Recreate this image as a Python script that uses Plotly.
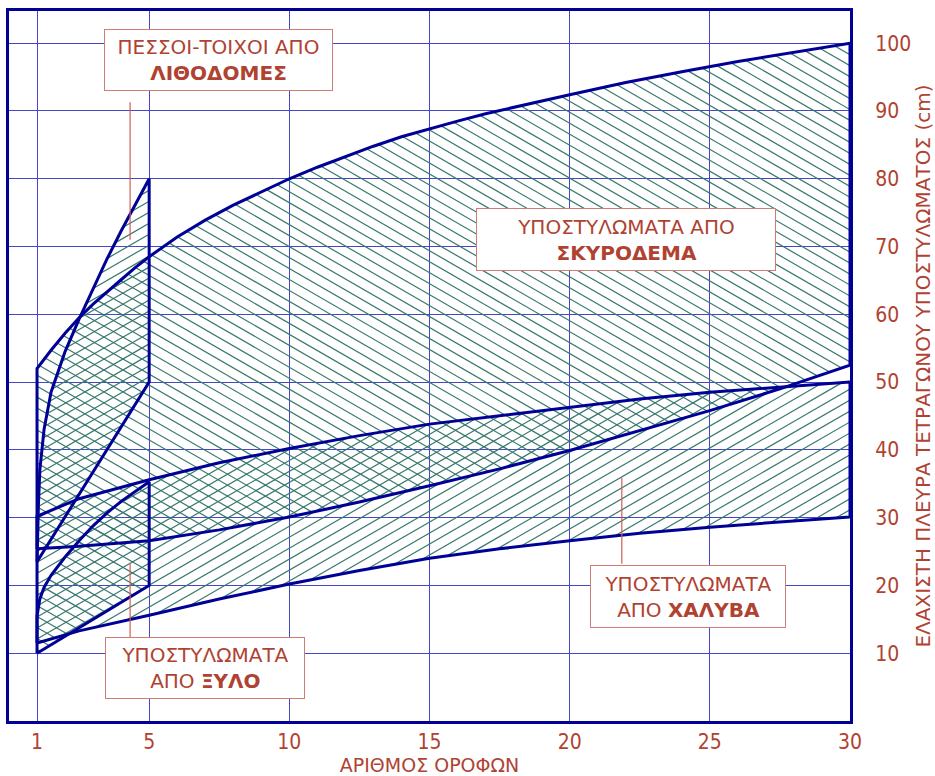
import numpy as np
import plotly.graph_objects as go

# ---- boundary curves: number of floors vs minimum square column side (cm) ----
# reinforced concrete columns
conc_up_floors = [1, 1.5, 2, 2.5, 3, 3.5, 4, 4.5, 5, 6, 7, 8, 9, 10, 11, 12, 13, 14, 15,
                  16, 17, 18, 19, 20, 22, 24, 26, 28, 30]
conc_upper = [52, 54.7, 57.2, 59.5, 61.5, 63.3, 65.1, 66.9, 68.5, 71.4, 73.9, 76.1, 78.1, 80,
              81.7, 83.3, 84.8, 86.2, 87.4, 88.5, 89.6, 90.6, 91.5, 92.4, 94.2, 95.8, 97.3, 98.7, 100]
conc_low_floors = [1, 2.5, 5, 7.5, 10, 12.5, 15, 17.5, 20, 22.5, 25, 27.5, 30]
conc_lower = [25.4, 25.8, 26.6, 28.2, 30.1, 32.3, 34.7, 37.2, 39.9, 42.8, 45.8, 49.0, 52.5]

# steel columns
steel_floors = [1, 2.5, 5, 7.5, 10, 12.5, 15, 17.5, 20, 22.5, 25, 27.5, 30]
steel_lower = [11.5, 13.3, 15.6, 18.0, 20.2, 22.2, 24.0, 25.4, 26.6, 27.7, 28.6, 29.4, 30.1]
steel_upper = [30.2, 32.8, 35.6, 38.1, 40.2, 42.1, 43.8, 45.1, 46.3, 47.5, 48.5, 49.3, 50.0]

# masonry piers / walls
mas_up_floors = [1, 1.05, 1.1, 1.25, 1.5, 2, 2.5, 3, 3.5, 4, 4.5, 5]
mas_upper = [23.5, 32, 37, 43, 48.5, 54.5, 59.3, 63.8, 68.2, 72.3, 76.2, 80]
mas_low_floors = [1, 5]
mas_lower = [23.5, 50]

# timber columns
wood_up_floors = [1, 1.1, 1.25, 1.5, 2, 2.5, 3, 3.5, 4, 4.5, 5]
wood_upper = [15.5, 18, 19.7, 21.5, 24.2, 26.6, 28.8, 30.7, 32.4, 33.9, 35.3]
wood_low_floors = [1, 5]
wood_lower = [10, 20]

x_ticks = [1, 5, 10, 15, 20, 25, 30]
y_ticks = [10, 20, 30, 40, 50, 60, 70, 80, 90, 100]

# ---- figure geometry ----
W, H = 935, 776
ML, MR, MT, MB = 9, 85, 11, 55
X_RANGE = [0, 30]
Y_RANGE = [0, 104.75]
SX = (W - ML - MR) / (X_RANGE[1] - X_RANGE[0])
SY = (H - MT - MB) / (Y_RANGE[1] - Y_RANGE[0])

NAVY = "rgb(0,0,150)"
GRID = "rgb(70,70,200)"
HATCH = "rgb(55,120,110)"
TEXT = "rgb(176,66,50)"
BOXLINE = "rgb(205,125,115)"
FONT = "DejaVu Sans, sans-serif"
NUM_FONT = "Liberation Sans Narrow, DejaVu Sans Condensed, sans-serif"

HATCH_ANGLE = 30.0    # degrees from horizontal, in screen space
HATCH_SPACING = 9.5   # px between parallel hatch lines


def polygon(lower_x, lower_y, upper_x, upper_y):
    xs = list(lower_x) + list(upper_x)[::-1]
    ys = list(lower_y) + list(upper_y)[::-1]
    return xs, ys


def hatch(xs, ys, angle_deg):
    """Parallel hatch segments clipped to a polygon (computed in screen px)."""
    px = np.asarray(xs, float) * SX
    py = np.asarray(ys, float) * SY
    th = np.radians(angle_deg)
    d = np.array([np.cos(th), np.sin(th)])
    n = np.array([-np.sin(th), np.cos(th)])
    c = px * n[0] + py * n[1]
    m = len(px)
    ox, oy = [], []
    for k in range(int(np.floor(c.min() / HATCH_SPACING)), int(np.ceil(c.max() / HATCH_SPACING)) + 1):
        cc = k * HATCH_SPACING
        hits = []
        for i in range(m):
            j = (i + 1) % m
            c1, c2 = c[i], c[j]
            if (c1 <= cc < c2) or (c2 <= cc < c1):
                f = (cc - c1) / (c2 - c1)
                hx = px[i] + f * (px[j] - px[i])
                hy = py[i] + f * (py[j] - py[i])
                hits.append((hx * d[0] + hy * d[1], hx, hy))
        hits.sort()
        for a in range(0, len(hits) - 1, 2):
            ox += [hits[a][1] / SX, hits[a + 1][1] / SX, None]
            oy += [hits[a][2] / SY, hits[a + 1][2] / SY, None]
    return ox, oy


regions = [
    # (polygon, hatch angle)
    (polygon(conc_low_floors, conc_lower, conc_up_floors, conc_upper), -HATCH_ANGLE),
    (polygon(steel_floors, steel_lower, steel_floors, steel_upper), HATCH_ANGLE),
    (polygon(mas_low_floors, mas_lower, mas_up_floors, mas_upper), HATCH_ANGLE),
    (polygon(wood_low_floors, wood_lower, wood_up_floors, wood_upper), -HATCH_ANGLE),
]

fig = go.Figure()

for (xs, ys), ang in regions:
    hx, hy = hatch(xs, ys, ang)
    fig.add_trace(go.Scatter(x=hx, y=hy, mode="lines",
                             line=dict(color=HATCH, width=1.2),
                             hoverinfo="skip", showlegend=False))

for (xs, ys), _ in regions:
    fig.add_trace(go.Scatter(x=xs + [xs[0]], y=ys + [ys[0]], mode="lines",
                             line=dict(color=NAVY, width=3),
                             hoverinfo="skip", showlegend=False))

# ---- labels ----
labels = [
    # text, x, y, width, height
    ("ΠΕΣΣΟΙ-ΤΟΙΧΟΙ ΑΠΟ<br><b>ΛΙΘΟΔΟΜΕΣ</b>", 7.47, 97.5, 229, 62),
    ("ΥΠΟΣΤΥΛΩΜΑΤΑ ΑΠΟ<br><b>ΣΚΥΡΟΔΕΜΑ</b>", 22.01, 70.97, 300, 63),
    ("ΥΠΟΣΤΥΛΩΜΑΤΑ<br>ΑΠΟ <b>ΧΑΛΥΒΑ</b>", 24.22, 18.37, 196, 63),
    ("ΥΠΟΣΤΥΛΩΜΑΤΑ<br>ΑΠΟ <b>ΞΥΛΟ</b>", 6.99, 7.82, 200, 62),
]
for text, x, y, w, h in labels:
    fig.add_annotation(x=x, y=y, xref="x", yref="y", text=text, showarrow=False,
                       xanchor="center", yanchor="middle", align="center",
                       width=w - 2, height=h - 2, borderpad=0,
                       bgcolor="white", bordercolor=BOXLINE, borderwidth=1,
                       font=dict(family=FONT, size=20, color=TEXT))

# leader lines from the labels into their zones
leaders = [(4.32, 91.3, 71.0), (21.86, 35.9, 23.2), (4.32, 23.3, 12.4)]
for x, y0, y1 in leaders:
    fig.add_shape(type="line", x0=x, x1=x, y0=y0, y1=y1, xref="x", yref="y",
                  line=dict(color="rgb(205,95,80)", width=1.2))

fig.update_layout(
    width=W, height=H,
    margin=dict(l=ML, r=MR, t=MT, b=MB, pad=0),
    plot_bgcolor="white", paper_bgcolor="white",
    font=dict(family=FONT, color=TEXT, size=20),
    showlegend=False,
)
fig.update_xaxes(
    range=X_RANGE, tickvals=x_ticks, ticks="", automargin=False,
    showgrid=True, gridcolor=GRID, gridwidth=1.2, zeroline=False,
    showline=True, linecolor=NAVY, linewidth=3, mirror=True,
    tickfont=dict(family=NUM_FONT, size=21, color=TEXT),
    title=dict(text="ΑΡΙΘΜΟΣ ΟΡΟΦΩΝ", font=dict(family=FONT, size=19, color=TEXT), standoff=2),
)
fig.update_yaxes(
    range=Y_RANGE, tickvals=y_ticks, ticks="", side="right", automargin=False,
    showgrid=True, gridcolor=GRID, gridwidth=1.2, zeroline=False,
    showline=True, linecolor=NAVY, linewidth=3, mirror=True,
    tickfont=dict(family=NUM_FONT, size=21, color=TEXT), ticklabelstandoff=18,
    title=dict(text="ΕΛΑΧΙΣΤΗ ΠΛΕΥΡΑ ΤΕΤΡΑΓΩΝΟΥ ΥΠΟΣΤΥΛΩΜΑΤΟΣ (cm)",
               font=dict(family=FONT, size=20, color=TEXT), standoff=14),
)

fig.write_html("out.html")
